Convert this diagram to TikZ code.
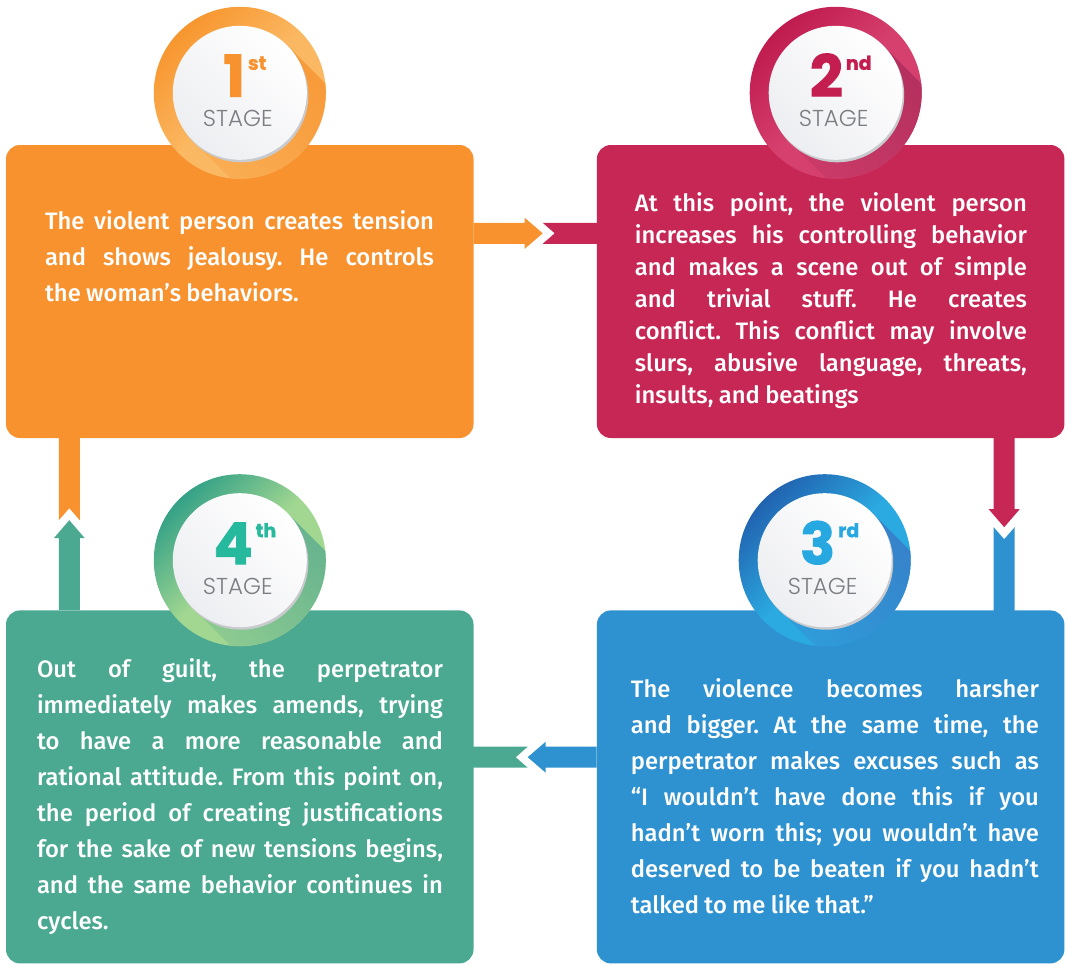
\documentclass[tikz,border=0pt]{standalone}
\usepackage{fontspec}
\setmainfont{Fira Sans Medium}[WordSpace={0.9,1,1.3}]
\newfontfamily\numfont{Poppins}[BoldFeatures={FakeBold=1.5}]
\newfontfamily\labelfont{Poppins Light}
\usepackage{xcolor}
\usepackage{tikz}
\usetikzlibrary{positioning, calc}
\definecolor{BoxOrange}{HTML}{F7922F}
\definecolor{BoxCrimson}{HTML}{C62755}
\definecolor{BoxBlue}{HTML}{2E91D0}
\definecolor{BoxTeal}{HTML}{4BA992}
\definecolor{StageGrey}{HTML}{7C7D82}
\definecolor{RimGrey}{HTML}{C9CACE}
\definecolor{FaceGrey}{HTML}{EDEEF1}
% ring shades: dark, light, shadow
\definecolor{OrangeDark}{HTML}{F7962F}
\definecolor{OrangeLight}{HTML}{FBB862}
\definecolor{OrangeShadow}{HTML}{F68F2A}
\definecolor{CrimsonDark}{HTML}{BF1B4F}
\definecolor{CrimsonLight}{HTML}{D6406E}
\definecolor{CrimsonShadow}{HTML}{A82A58}
\definecolor{BlueDark}{HTML}{2163B0}
\definecolor{BlueLight}{HTML}{2BAAE1}
\definecolor{BlueShadow}{HTML}{3B74C2}
\definecolor{TealDark}{HTML}{34A187}
\definecolor{TealLight}{HTML}{A2D791}
\definecolor{TealShadow}{HTML}{52A78E}
\definecolor{NumOrange}{HTML}{F7922F}
\definecolor{NumCrimson}{HTML}{C41E51}
\definecolor{NumBlue}{HTML}{27A8E0}
\definecolor{NumTeal}{HTML}{27B99E}

% paragraph settings for the box texts
\newcommand\bodysetup{\frenchspacing\hyphenpenalty 10000 \tolerance 10000 }

% badge: #1 centre, #2 ring dark, #3 ring light, #4 shadow, #5 number colour, #6 number, #7 suffix, #8 name
\newcommand\stagebadge[8]{%
  \begin{scope}[shift={#1}]
    \shade[top color=#2, bottom color=#3, middle color=#3, shading angle=45] (0,0) circle (86);
    \begin{scope}
      \clip (0,0) circle (86);
      \shade[top color=#3, bottom color=#4, shading angle=135] (-47.4,47.4) -- (47.4,-47.4) -- (247.4,152.6) -- (152.6,247.4) -- cycle;
    \end{scope}
    \fill[RimGrey] (1.5,2.5) circle (67);
    \shade[top color=white, bottom color=FaceGrey, shading angle=-45] (0,0) circle (67);
    \node[stagenum, text=#5] (#8) at (5,4) {#6\hspace{3pt}\raisebox{27pt}{\fontsize{19}{19}\selectfont #7}};
    \node[stagelabel] (#8-label) at (-2,34) {STAGE};
  \end{scope}}

% joint: #1 start, #2 direction, #3 tip distance, #4 gap, #5 arrow colour, #6 stem colour
\newcommand\stagejoint[6]{%
  \begin{scope}[shift={#1}, rotate=#2]
    \fill[#5] (0,-10.5) -- (#3-18,-10.5) -- (#3-18,-15.5) -- (#3,0) -- (#3-18,15.5) -- (#3-18,10.5) -- (0,10.5) -- cycle;
    \fill[#6] (#3,-10.5) -- (#3+12,0) -- (#3,10.5) -- (#4+1,10.5) -- (#4+1,-10.5) -- cycle;
  \end{scope}}

\begin{document}
\begin{tikzpicture}[x=1pt, y=-1pt, node distance=123pt]
    \tikzstyle{stagebox} = [rectangle, rounded corners=14pt, inner sep=0pt, minimum width=467.5pt]
    \tikzstyle{bodytext} = [text=white, align=justify, inner sep=0pt, anchor=base west, font={\fontsize{23.8}{36}\selectfont\bodysetup}]
    \tikzstyle{stagenum} = [inner sep=0pt, anchor=base, text depth=0pt, font=\numfont\bfseries\fontsize{58}{58}\selectfont]
    \tikzstyle{stagelabel} = [inner sep=0pt, anchor=base, text=StageGrey, font=\labelfont\fontsize{23}{23}\selectfont]

    \useasboundingbox (0,0) rectangle (1068,964);

    \node [stagebox, fill=BoxOrange, minimum height=293pt] (box1) at (239.75,291.5) {};
    \node [stagebox, fill=BoxCrimson, minimum height=293pt, right=of box1] (box2) {};
    \node [stagebox, fill=BoxTeal, minimum height=353pt, below=172pt of box1] (box4) {};
    \node [stagebox, fill=BoxBlue, minimum height=353pt, right=of box4] (box3) {};

    \stagejoint{($(box1.north east)+(0,88.5)$)}{0}{69}{123}{BoxOrange}{BoxCrimson}
    \stagejoint{($(box2.south west)+(407.5,0)$)}{-90}{89}{172}{BoxCrimson}{BoxBlue}
    \stagejoint{($(box3.north west)+(0,147)$)}{180}{69}{123}{BoxBlue}{BoxTeal}
    \stagejoint{($(box4.north west)+(63.5,0)$)}{90}{90}{172}{BoxTeal}{BoxOrange}

    \stagebadge{($(box1.north west)+(234,-52)$)}{OrangeDark}{OrangeLight}{OrangeShadow}{NumOrange}{1}{st}{num1}
    \stagebadge{($(box2.north west)+(239,-52)$)}{CrimsonDark}{CrimsonLight}{CrimsonShadow}{NumCrimson}{2}{nd}{num2}
    \stagebadge{($(box3.north west)+(228,-50)$)}{BlueDark}{BlueLight}{BlueShadow}{NumBlue}{3}{rd}{num3}
    \stagebadge{($(box4.north west)+(234,-50)$)}{TealDark}{TealLight}{TealShadow}{NumTeal}{4}{th}{num4}

    \node [bodytext, text width=389pt] (text1) at ($(box1.north west)+(39,85)$) {The violent person creates tension\linebreak and shows jealousy. He controls\linebreak the woman’s behaviors.};
    \node [bodytext, text width=392pt, font={\fontsize{23.8}{32}\selectfont\bodysetup}] (text2) at ($(box2.north west)+(38,67)$) {At this point, the violent person\linebreak increases his controlling behavior\linebreak and makes a scene out of simple\linebreak and trivial stuff. He creates\linebreak conflict. This conflict may involve\linebreak slurs, abusive language, threats,\linebreak insults, and beatings};
    \node [bodytext, text width=408pt] (text3) at ($(box3.north west)+(34,87)$) {The violence becomes harsher\linebreak and bigger. At the same time, the\linebreak perpetrator makes excuses such as\linebreak “I wouldn’t have done this if you\linebreak hadn’t worn this; you wouldn’t have\linebreak deserved to be beaten if you hadn’t\linebreak talked to me like that.”};
    \node [bodytext, text width=406pt] (text4) at ($(box4.north west)+(31,67)$) {Out of guilt, the perpetrator\linebreak immediately makes amends, trying\linebreak to have a more reasonable and\linebreak rational attitude. From this point on,\linebreak the period of creating justifications\linebreak for the sake of new tensions begins,\linebreak and the same behavior continues in\linebreak cycles.};
\end{tikzpicture}
\end{document}
